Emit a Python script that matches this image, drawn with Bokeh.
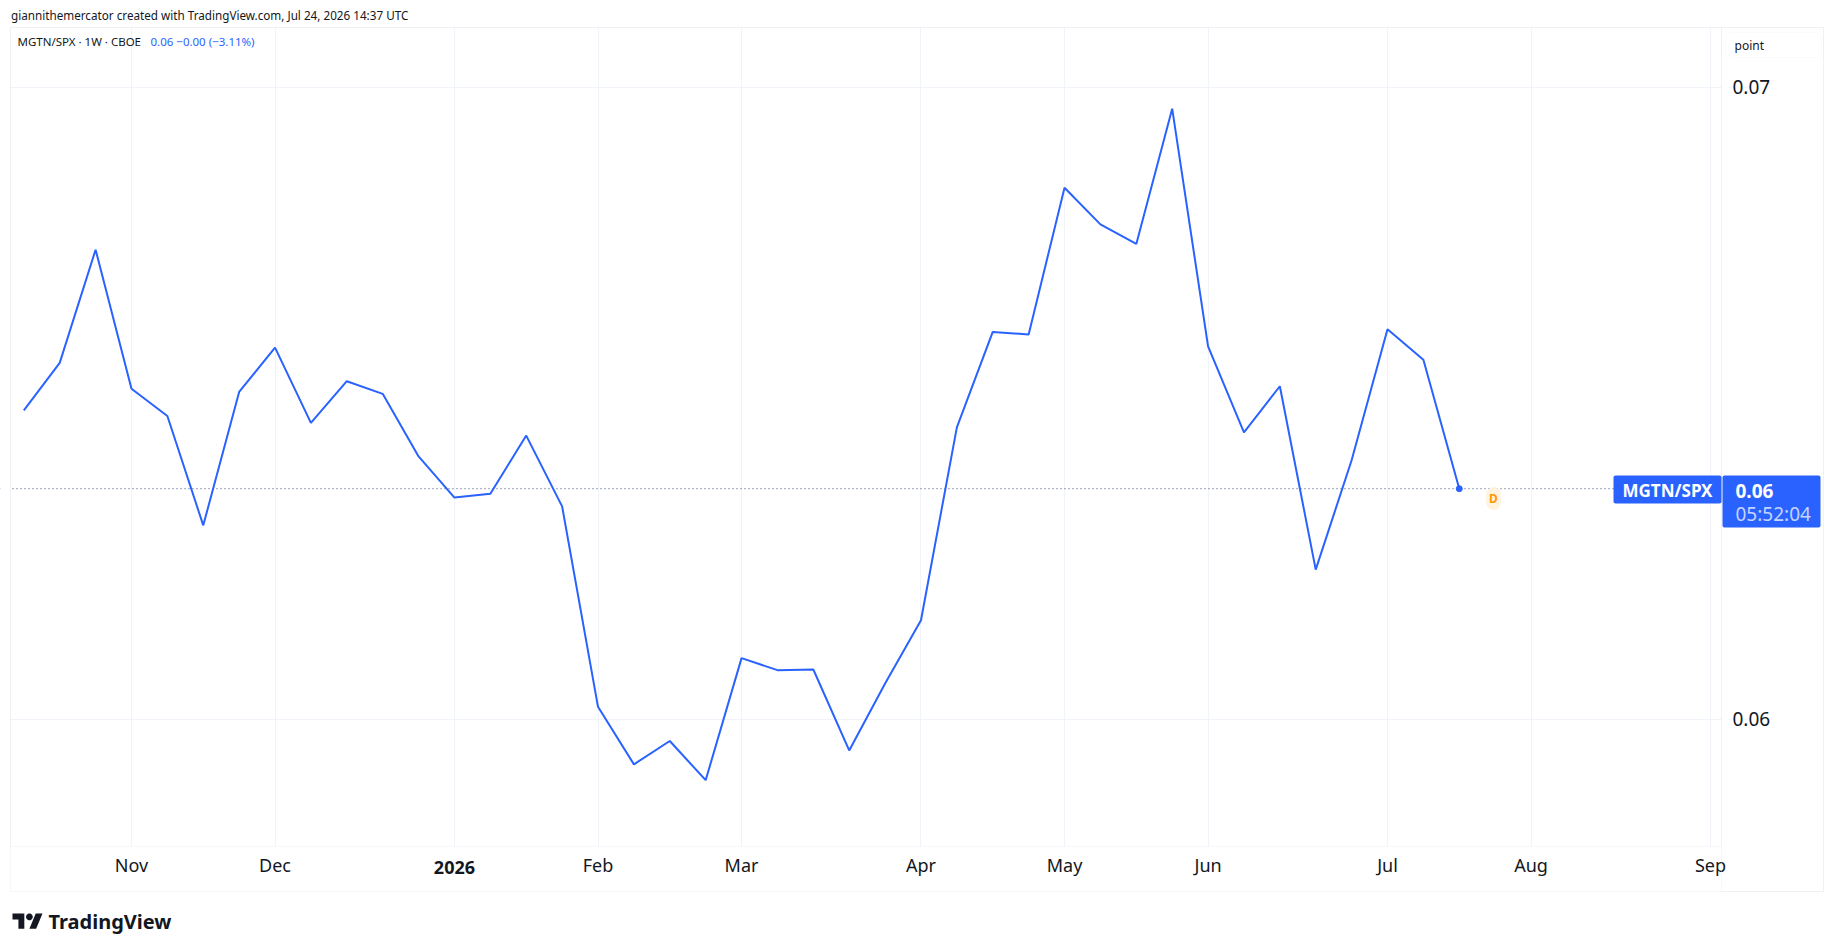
import math
import pandas as pd
from bokeh.plotting import figure
from bokeh.models import Range1d, FixedTicker, Label, BoxAnnotation, PolyAnnotation, Span
from bokeh.embed import file_html
from bokeh.resources import INLINE

# ---------------- data ----------------
first_week = "2025-10-13"
ratio_values = [0.06489, 0.06564, 0.06743, 0.06523, 0.06480, 0.06307, 0.06518, 0.06588,
                0.06469, 0.06535, 0.06515, 0.06416, 0.06351, 0.06357, 0.06449, 0.06337,
                0.06020, 0.05929, 0.05966, 0.05904, 0.06097, 0.06078, 0.06079, 0.05951,
                0.06057, 0.06157, 0.06462, 0.06613, 0.06609, 0.06841, 0.06783, 0.06752,
                0.06966, 0.06590, 0.06454, 0.06527, 0.06237, 0.06410, 0.06617, 0.06569,
                0.06365]
week_dates = pd.date_range(first_week, periods=len(ratio_values), freq="W-MON")

month_tick_dates = ["2025-11-03", "2025-12-01", "2026-01-05", "2026-02-02", "2026-03-02",
                    "2026-04-06", "2026-05-04", "2026-06-01", "2026-07-06", "2026-08-03",
                    "2026-09-07"]
month_tick_labels = ["Nov", "Dec", "2026", "Feb", "Mar", "Apr", "May", "Jun", "Jul", "Aug", "Sep"]
price_ticks = [0.06, 0.07]

title_text = "giannithemercator created with TradingView.com, Jul 24, 2026 14:37 UTC"
legend_symbol = "MGTN/SPX · 1W · CBOE"
legend_values = "0.06  −0.00 (−3.11%)"
symbol_name = "MGTN/SPX"
last_price_text = "0.06"
countdown_text = "05:52:04"
scale_mode = "point"
marker_text = "D"
brand_text = "TradingView"

# ---------------- style / layout ----------------
FONT = "Noto Sans"
BLUE = "#2962ff"
TXT = "#131722"
BORDER = "#e0e3eb"
GRID = "#f0f3fa"
W, H = 1830, 940
# data pane in page pixels
PL, PR, PT, PB = 10, 1721, 27, 846
# outer chart box
BR, BB = 1823, 891


def ms(d):
    return pd.Timestamp(d).value / 1e6


DAY = 86400000.0
x_lo = ms(first_week) - 2.6 * DAY      # value at pane left edge
x_hi = ms("2026-09-07") + 2.15 * DAY   # value at pane right edge
y_hi, y_lo = 0.070944, 0.057991        # values at pane top / bottom edge

kx = (x_hi - x_lo) / (PR - PL)
ky = (y_hi - y_lo) / (PB - PT)
x_range = Range1d(x_lo - PL * kx, x_hi + (W - PR) * kx)
y_range = Range1d(y_lo - (H - PB) * ky, y_hi + PT * ky)


def sx(px):
    return px


def sy(py):
    return H - py


p = figure(width=W, height=H, x_axis_type="datetime", y_axis_location="right",
           x_range=x_range, y_range=y_range,
           output_backend="svg", toolbar_location=None,
           min_border=0, min_border_left=0, min_border_right=0, min_border_top=0, min_border_bottom=0)
p.background_fill_color = "white"
p.border_fill_color = "white"
p.outline_line_color = None

tick_ms = [ms(d) for d in month_tick_dates]
overrides = {t: (lab if lab != "2026" else "") for t, lab in zip(tick_ms, month_tick_labels)}

xa = p.xaxis[0]
xa.fixed_location = y_lo
xa.ticker = FixedTicker(ticks=tick_ms)
xa.major_label_overrides = overrides
xa.axis_line_color = None
xa.major_tick_line_color = None
xa.minor_tick_line_color = None
xa.major_tick_out = 0
xa.major_tick_in = 0
xa.major_label_text_font = FONT
xa.major_label_text_font_size = "18px"
xa.major_label_text_color = TXT
xa.major_label_standoff = 6

ya = p.yaxis[0]
ya.fixed_location = x_hi
ya.ticker = FixedTicker(ticks=price_ticks)
ya.axis_line_color = None
ya.major_tick_line_color = None
ya.minor_tick_line_color = None
ya.major_tick_out = 0
ya.major_tick_in = 0
ya.major_label_text_font = FONT
ya.major_label_text_font_size = "19px"
ya.major_label_text_color = TXT
ya.major_label_standoff = 11

p.xgrid.grid_line_color = GRID
p.ygrid.grid_line_color = GRID


def box(l, r, t, b, fill=None, line=None, radius=0, level="annotation"):
    return BoxAnnotation(left=sx(l), right=sx(r), top=sy(t), bottom=sy(b),
                         left_units="screen", right_units="screen", top_units="screen", bottom_units="screen",
                         fill_color=fill if fill else "white", fill_alpha=1 if fill else 0,
                         line_color=line, line_width=1, border_radius=radius, level=level)


# last price dotted line (underlay, masked outside the pane)
p.add_layout(Span(location=ratio_values[-1], dimension="width", line_color="#3d4a7c",
                  line_dash="1 3", line_width=1, level="underlay"))

# white masks outside the data pane (hide grid lines there)
for l, r, t, b in [(0, W, 0, PT), (0, W, PB, H), (0, PL, 0, H), (PR, W, 0, H)]:
    p.add_layout(box(l, r, t, b, fill="white", level="underlay"))

# series
p.line(week_dates, ratio_values, line_color=BLUE, line_width=2)
p.scatter([week_dates[-1]], [ratio_values[-1]], size=6, color=BLUE)

# borders
p.add_layout(box(PL, BR, PT, BB, line=BORDER))
p.add_layout(box(PR, BR, PT, BB, line=BORDER))
p.add_layout(box(PL, PR, PT, PB, line=BORDER))


def lab(text, px, py, size, color=TXT, style="normal", align="left", base="middle", xdata=None, **extra):
    kw = dict(text=text, y=sy(py), y_units="screen", text_font=FONT, text_font_size=f"{size}px",
              text_color=color, text_font_style=style, text_align=align, text_baseline=base)
    if xdata is None:
        kw.update(x=sx(px), x_units="screen")
    else:
        kw.update(x=xdata, x_units="data")
    kw.update(extra)
    return Label(**kw)


# price tags
p.add_layout(box(1613, 1721, 475, 503, BLUE, radius=2))
p.add_layout(box(1722, 1820, 475, 527, BLUE, radius=2))
p.add_layout(lab(symbol_name, 1667, 489.5, 17, "white", "bold", "center"))
p.add_layout(lab(last_price_text, 1735, 490, 19, "white", "bold"))
p.add_layout(lab(countdown_text, 1735, 513, 19, "#c5d3ff"))
p.add_layout(lab(marker_text, 1493, 498, 12, "#ff9800", "bold", "center",
                 background_fill_color="#fff1dc", background_fill_alpha=0.9,
                 padding=3, border_radius=8))

# scale mode box
p.add_layout(box(1725, 1821, 32, 57, "white", line=GRID, radius=4))
p.add_layout(lab(scale_mode, 1734, 44.5, 12))

# header
p.add_layout(lab(title_text, 10.5, 14, 11.7))
p.add_layout(lab(legend_symbol, 17, 41, 11.5))
p.add_layout(lab(legend_values, 150, 41, 11.5, BLUE))

# bold year label on the time axis
p.add_layout(lab("2026", 0, 867, 18, TXT, "bold", "center", xdata=ms("2026-01-05")))

# TradingView logo
S = 0.845


def logo_pts(pts):
    xs = [sx(12 + a * S) for a, b in pts]
    ys = [sy(913 + (b - 4) * S) for a, b in pts]
    return xs, ys


shape1 = [(0, 4), (14, 4), (14, 22), (7, 22), (7, 11), (0, 11)]
shape2 = [(20, 22), (27.5, 4), (35.5, 4), (28, 22)]
dot = [(20 + 4 * math.cos(2 * math.pi * k / 24), 8 + 4 * math.sin(2 * math.pi * k / 24)) for k in range(24)]
for shp in (shape1, shape2, dot):
    xs, ys = logo_pts(shp)
    p.add_layout(PolyAnnotation(xs=xs, ys=ys, xs_units="screen", ys_units="screen",
                                fill_color=TXT, fill_alpha=1, line_color=None))
p.add_layout(lab(brand_text, 48, 921, 20, TXT, "bold"))

open("out.html", "w").write(file_html(p, INLINE))
